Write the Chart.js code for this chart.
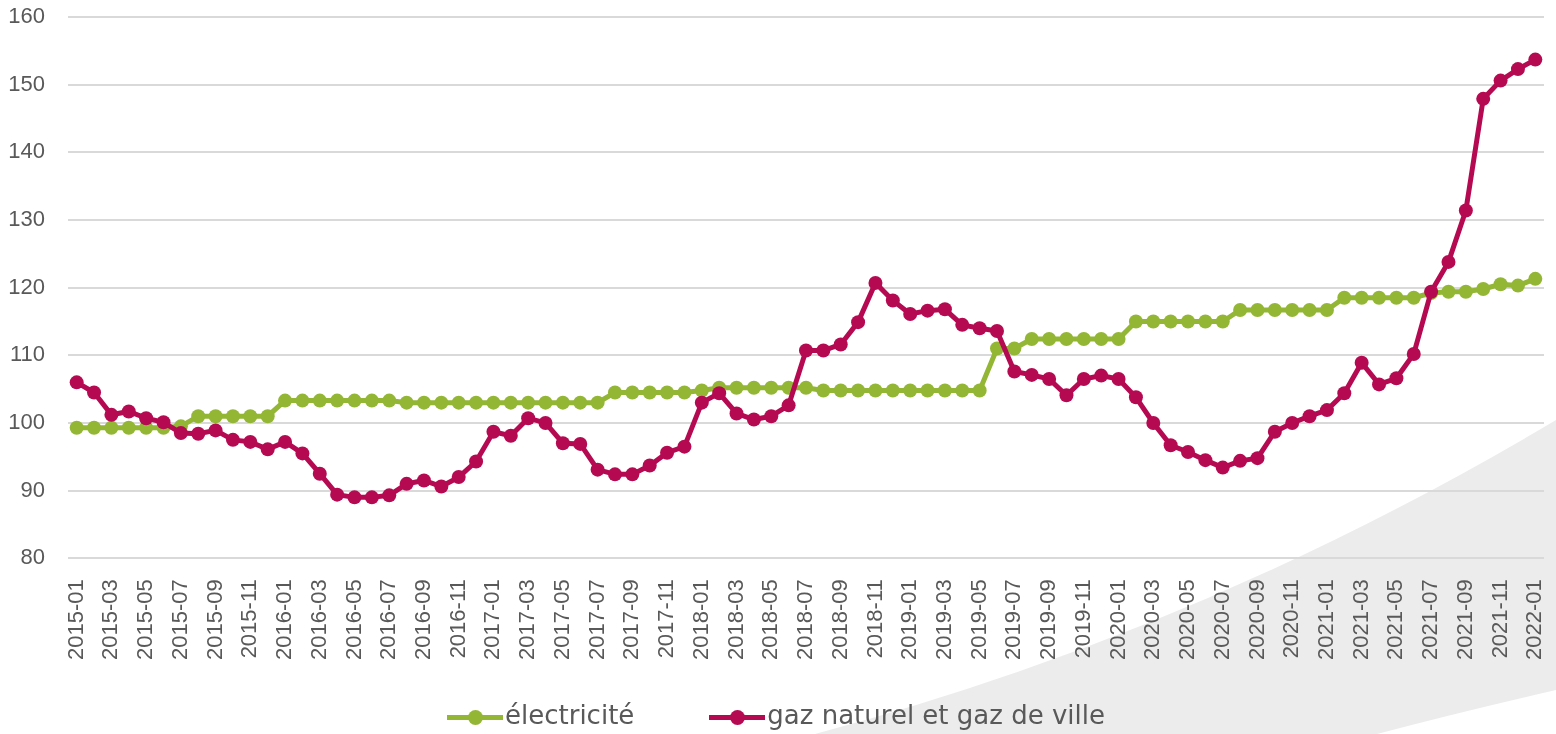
<!DOCTYPE html>
<html lang="fr">
<head>
<meta charset="utf-8">
<title>Électricité et gaz – indices mensuels</title>
<script src="https://cdn.jsdelivr.net/npm/chart.js@4.4.1/dist/chart.umd.min.js"></script>
<style>
  html, body { margin: 0; padding: 0; background: #fff; }
  #wrap { position: relative; width: 1556px; height: 734px; overflow: hidden; }
  #swoosh, #chart { position: absolute; left: 0; top: 0; }
  #legend {
    position: absolute; left: 447px; top: 700px;
    display: flex; gap: 75px;
    font: 26px/30px "DejaVu Sans", sans-serif; color: #595959;
    white-space: nowrap;
  }
  .item { display: flex; align-items: center; }
  .mark { position: relative; width: 56px; height: 5px; margin: 4px 2px 0 0; }
  .mark i { position: absolute; left: 21px; top: -5px; width: 15px; height: 15px; border-radius: 50%; }
</style>
</head>
<body>
<div id="wrap">
  <svg id="swoosh" width="1556" height="734">
    <path d="M815 734 Q1200 632 1556 420 L1556 690 Q1460 712 1377 734 Z" fill="#ececec"/>
  </svg>
  <canvas id="chart" width="1556" height="734"></canvas>
  <div id="legend"></div>
</div>
<script>
const months = [
  '2015-01','2015-02','2015-03','2015-04','2015-05','2015-06','2015-07','2015-08','2015-09','2015-10','2015-11','2015-12',
  '2016-01','2016-02','2016-03','2016-04','2016-05','2016-06','2016-07','2016-08','2016-09','2016-10','2016-11','2016-12',
  '2017-01','2017-02','2017-03','2017-04','2017-05','2017-06','2017-07','2017-08','2017-09','2017-10','2017-11','2017-12',
  '2018-01','2018-02','2018-03','2018-04','2018-05','2018-06','2018-07','2018-08','2018-09','2018-10','2018-11','2018-12',
  '2019-01','2019-02','2019-03','2019-04','2019-05','2019-06','2019-07','2019-08','2019-09','2019-10','2019-11','2019-12',
  '2020-01','2020-02','2020-03','2020-04','2020-05','2020-06','2020-07','2020-08','2020-09','2020-10','2020-11','2020-12',
  '2021-01','2021-02','2021-03','2021-04','2021-05','2021-06','2021-07','2021-08','2021-09','2021-10','2021-11','2021-12',
  '2022-01'
];

const electricite = [
  99.3, 99.3, 99.3, 99.3, 99.3, 99.3, 99.5, 101.0, 101.0, 101.0, 101.0, 101.0,
  103.3, 103.3, 103.3, 103.3, 103.3, 103.3, 103.3, 103.0, 103.0, 103.0, 103.0, 103.0,
  103.0, 103.0, 103.0, 103.0, 103.0, 103.0, 103.0, 104.5, 104.5, 104.5, 104.5, 104.5,
  104.8, 105.2, 105.2, 105.2, 105.2, 105.2, 105.2, 104.8, 104.8, 104.8, 104.8, 104.8,
  104.8, 104.8, 104.8, 104.8, 104.8, 111.0, 111.0, 112.4, 112.4, 112.4, 112.4, 112.4,
  112.4, 115.0, 115.0, 115.0, 115.0, 115.0, 115.0, 116.7, 116.7, 116.7, 116.7, 116.7,
  116.7, 118.5, 118.5, 118.5, 118.5, 118.5, 119.2, 119.4, 119.4, 119.8, 120.5, 120.3,
  121.3
];

const gaz = [
  106.0, 104.5, 101.2, 101.7, 100.7, 100.1, 98.5, 98.4, 98.9, 97.5, 97.2, 96.1,
  97.2, 95.5, 92.5, 89.4, 89.0, 89.0, 89.3, 91.0, 91.5, 90.6, 92.0, 94.3,
  98.7, 98.1, 100.7, 100.0, 97.0, 96.9, 93.1, 92.4, 92.4, 93.7, 95.6, 96.5,
  103.0, 104.4, 101.4, 100.5, 101.0, 102.6, 110.7, 110.7, 111.6, 114.9, 120.7, 118.1,
  116.1, 116.6, 116.8, 114.5, 114.0, 113.6, 107.6, 107.1, 106.5, 104.1, 106.5, 107.0,
  106.5, 103.8, 100.0, 96.7, 95.7, 94.5, 93.4, 94.4, 94.8, 98.7, 100.0, 101.0,
  101.9, 104.4, 108.9, 105.7, 106.6, 110.2, 119.4, 123.8, 131.4, 147.9, 150.6, 152.3,
  153.7
];

const yTicks = [80, 90, 100, 110, 120, 130, 140, 150, 160];

const GREEN = '#93b735';
const PINK = '#b50a52';
const TEXT = '#595959';
const tickFont = { family: '"Liberation Sans", Arial, sans-serif', size: 22 };

// légende HTML construite à partir des jeux de données
const htmlLegend = {
  id: 'htmlLegend',
  afterUpdate(chart) {
    const box = document.getElementById('legend');
    box.innerHTML = '';
    chart.data.datasets.forEach(ds => {
      const item = document.createElement('span');
      item.className = 'item';
      item.innerHTML = `<span class="mark" style="background:${ds.borderColor}"><i style="background:${ds.borderColor}"></i></span><span>${ds.label}</span>`;
      box.appendChild(item);
    });
  }
};

function initChart() {
  const ctx = document.getElementById('chart').getContext('2d');
  new Chart(ctx, {
    type: 'line',
    data: {
      labels: months,
      datasets: [
        { label: 'électricité', data: electricite, borderColor: GREEN, backgroundColor: GREEN, order: 1 },
        { label: 'gaz naturel et gaz de ville', data: gaz, borderColor: PINK, backgroundColor: PINK, order: 0 }
      ]
    },
    options: {
      responsive: false,
      animation: false,
      layout: { padding: { top: 17, right: 12, bottom: 53, left: 0 } },
      elements: {
        line: { borderWidth: 5, tension: 0 },
        point: { radius: 7, hoverRadius: 7, borderWidth: 0 }
      },
      plugins: { legend: { display: false }, tooltip: { enabled: false } },
      scales: {
        x: {
          offset: true,
          grid: { display: false, drawTicks: false },
          border: { display: false },
          afterFit(scale) { scale.paddingLeft = 0; scale.paddingRight = 0; },
          ticks: {
            autoSkip: false, minRotation: 90, maxRotation: 90, padding: 21,
            color: TEXT, font: tickFont,
            callback(value, index) { return index % 2 === 0 ? this.getLabelForValue(value) : ''; }
          }
        },
        y: {
          min: yTicks[0],
          max: yTicks[yTicks.length - 1],
          afterBuildTicks(scale) { scale.ticks = yTicks.map(v => ({ value: v })); },
          afterFit(scale) { scale.width = 68; scale.paddingTop = 0; scale.paddingBottom = 0; },
          grid: { color: '#d9d9d9', lineWidth: 2, drawTicks: false },
          border: { display: false },
          ticks: { padding: 23, color: TEXT, font: tickFont }
        }
      }
    },
    plugins: [htmlLegend]
  });
}

document.addEventListener('DOMContentLoaded', initChart);
</script>
</body>
</html>
